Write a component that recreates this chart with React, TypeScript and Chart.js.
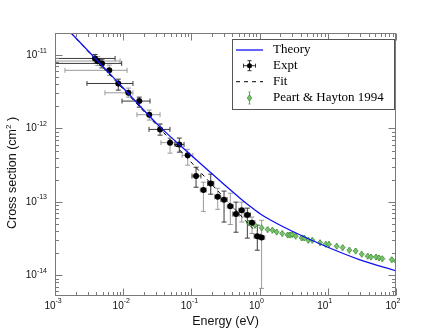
import React, { useEffect, useRef } from 'react';
import { Chart, registerables } from 'chart.js';

Chart.register(...registerables);

// ---------- data ----------
const theoryEnergy = [1.18e-3, 1.72e-3, 9.93e-3, 3.46e-2, 9.54e-2, 0.1874, 0.311, 0.516, 0.723, 1.014, 1.42, 3.12, 9.63, 29.7, 102];
const theorySigma = [2.86e-11, 2.0e-11, 3.59e-12, 1.05e-12, 4.46e-13, 2.54e-13, 1.68e-13, 1.12e-13, 8.7e-14, 6.89e-14, 5.7e-14, 3.91e-14, 2.44e-14, 1.62e-14, 1.14e-14];

const fitEnergy = [1.18e-3, 0.8];
const fitSigma = [2.9e-11, 4.3e-14];

const exptEnergy = [3.86e-3, 4.23e-3, 4.89e-3, 6.25e-3, 8.47e-3, 1.19e-2, 1.72e-2, 2.41e-2, 3.47e-2, 4.86e-2, 6.65e-2, 8.83e-2, 0.117, 0.15, 0.192, 0.243, 0.301, 0.372, 0.451, 0.547, 0.661, 0.774, 0.925, 1.07];
const exptSigma = [9.0e-12, 8.3e-12, 7.7e-12, 6.2e-12, 4.1e-12, 3.06e-12, 2.36e-12, 1.54e-12, 9.7e-13, 6.4e-13, 6.05e-13, 4.3e-13, 2.25e-13, 1.45e-13, 1.78e-13, 1.17e-13, 1.07e-13, 8.7e-14, 6.8e-14, 7.7e-14, 6.6e-14, 5.2e-14, 3.4e-14, 3.26e-14];
const exptSigmaLow = [7.7e-12, 7.2e-12, 6.7e-12, 5.3e-12, 3.33e-12, 2.67e-12, 1.95e-12, 1.3e-12, 8.1e-13, 4.6e-13, 4.75e-13, 3.16e-13, 1.58e-13, 7.4e-14, 1.27e-13, 7.9e-14, 5.3e-14, 4.9e-14, 3.85e-14, 5.3e-14, 3.2e-14, 3.7e-14, 2.19e-14, 6.6e-15];
const exptSigmaHigh = [1.02e-11, 9.5e-12, 8.8e-12, 7.3e-12, 4.7e-12, 3.55e-12, 2.67e-12, 1.78e-12, 1.15e-12, 7.4e-13, 7.4e-13, 5.2e-13, 2.96e-13, 1.85e-13, 2.38e-13, 1.53e-13, 1.4e-13, 1.31e-13, 9.9e-14, 9.9e-14, 8.2e-14, 6.2e-14, 4.8e-14, 5.6e-14];
const exptEnergyLow = [7e-4, 7e-4, 7e-4, 1.4e-3, 2.94e-3, 5.4e-3, 9.6e-3, 1.59e-2, 2.39e-2, 3.58e-2, 5.75e-2, 7.3e-2, 0.102, 0.135, 0.173, 0.219, 0.271, 0.335, 0.406, 0.492, 0.595, 0.697, 0.833, 0.963];
const exptEnergyHigh = [7.6e-3, 9.0e-3, 9.5e-3, 1.14e-2, 1.39e-2, 1.39e-2, 2.47e-2, 3.47e-2, 4.85e-2, 5.75e-2, 7.8e-2, 0.105, 0.138, 0.166, 0.213, 0.27, 0.334, 0.413, 0.501, 0.607, 0.734, 0.859, 1.03, 1.19];

const peartEnergy = [0.699, 0.856, 1.07, 1.31, 1.54, 1.78, 2.15, 2.58, 2.79, 3.02, 3.38, 4.14, 4.52, 5.18, 5.93, 7.69, 9.32, 10.4, 13.5, 16.5, 20.7, 25.6, 31.4, 38.5, 43.0, 50.9, 56.3, 63.0, 86.5, 100];
const peartSigma = [5.15e-14, 4.8e-14, 4.43e-14, 4.19e-14, 4.1e-14, 3.88e-14, 3.7e-14, 3.53e-14, 3.53e-14, 3.58e-14, 3.4e-14, 3.22e-14, 3.22e-14, 2.99e-14, 2.99e-14, 2.78e-14, 2.64e-14, 2.64e-14, 2.48e-14, 2.38e-14, 2.19e-14, 2.14e-14, 1.93e-14, 1.81e-14, 1.77e-14, 1.77e-14, 1.72e-14, 1.68e-14, 1.63e-14, 1.55e-14];
const peartRelErr = 0.08;

const xMin = 1e-3;
const xMax = 100;
const yMin = 5.2e-15;
const yMax = 2e-11;
const xTickValues = [1e-3, 1e-2, 1e-1, 1, 10, 100];
const xTickExponents = ['-3', '-2', '-1', '0', '1', '2'];
const yTickValues = [1e-14, 1e-13, 1e-12, 1e-11];
const yTickExponents = ['-14', '-13', '-12', '-11'];

const legendLabels = ['Theory', 'Expt', 'Fit', 'Peart & Hayton 1994'];

const SANS = '"Liberation Sans", Arial, Helvetica, sans-serif';
const SERIF = '"Liberation Serif", "Times New Roman", serif';
const BLUE = '#1010f0';
const GREEN_FILL = '#7cc46a';
const GREEN_EDGE = '#3d8a3d';
const FRAME = '#7a7a7a';

const pts = (xs: number[], ys: number[]) => xs.map((x, i) => ({ x, y: ys[i] }));

function drawErrorBar(ctx: CanvasRenderingContext2D, cx: number, cy: number, x0: number, x1: number, y0: number, y1: number, cap: number) {
  ctx.beginPath();
  if (x0 !== x1) {
    ctx.moveTo(x0, cy); ctx.lineTo(x1, cy);
    ctx.moveTo(x0, cy - cap); ctx.lineTo(x0, cy + cap);
    ctx.moveTo(x1, cy - cap); ctx.lineTo(x1, cy + cap);
  }
  if (y0 !== y1) {
    ctx.moveTo(cx, y0); ctx.lineTo(cx, y1);
    ctx.moveTo(cx - cap, y0); ctx.lineTo(cx + cap, y0);
    ctx.moveTo(cx - cap, y1); ctx.lineTo(cx + cap, y1);
  }
  ctx.stroke();
}

const errorBarPlugin = {
  id: 'errorBars',
  beforeDatasetsDraw(chart: any) {
    const { ctx, chartArea: a, scales } = chart;
    const xs = scales.x, ys = scales.y;
    ctx.save();
    ctx.beginPath();
    ctx.rect(a.left, a.top, a.right - a.left, a.bottom - a.top);
    ctx.clip();
    ctx.lineWidth = 1;
    exptEnergy.forEach((e, i) => {
      const cx = xs.getPixelForValue(e);
      const cy = ys.getPixelForValue(exptSigma[i]);
      ctx.strokeStyle = i % 2 === 0 ? '#3a3a3a' : '#9a9a9a';
      drawErrorBar(ctx, cx, cy,
        xs.getPixelForValue(exptEnergyLow[i]), xs.getPixelForValue(exptEnergyHigh[i]),
        ys.getPixelForValue(exptSigmaLow[i]), ys.getPixelForValue(exptSigmaHigh[i]), 2.5);
    });
    ctx.strokeStyle = '#5aa84a';
    peartEnergy.forEach((e, i) => {
      const cx = xs.getPixelForValue(e);
      const cy = ys.getPixelForValue(peartSigma[i]);
      drawErrorBar(ctx, cx, cy, cx, cx,
        ys.getPixelForValue(peartSigma[i] * (1 - peartRelErr)), ys.getPixelForValue(peartSigma[i] * (1 + peartRelErr)), 1);
    });
    ctx.restore();
  },
};

const framePlugin = {
  id: 'frame',
  afterDatasetsDraw(chart: any) {
    const { ctx, chartArea: a, scales } = chart;
    const xs = scales.x, ys = scales.y;
    const L = Math.round(a.left) + 0.5;
    const R = Math.round(a.right) - 0.5;
    const T = Math.round(a.top) + 0.5;
    const B = Math.round(a.bottom) - 0.5;
    ctx.save();
    ctx.strokeStyle = FRAME;
    ctx.lineWidth = 1;
    ctx.strokeRect(L, T, R - L, B - T);
    ctx.beginPath();
    // x ticks
    for (let d = -3; d <= 2; d++) {
      for (let m = 1; m <= 9; m++) {
        const v = m * Math.pow(10, d);
        if (v < xMin * 0.999 || v > xMax * 1.001) continue;
        const p = Math.round(xs.getPixelForValue(v)) + 0.5;
        const len = m === 1 ? 7 : 3.5;
        ctx.moveTo(p, B); ctx.lineTo(p, B - len);
        ctx.moveTo(p, T); ctx.lineTo(p, T + len);
      }
    }
    // y ticks
    for (let d = -15; d <= -11; d++) {
      for (let m = 1; m <= 9; m++) {
        const v = m * Math.pow(10, d);
        if (v < yMin * 0.999 || v > yMax * 1.001) continue;
        const p = Math.round(ys.getPixelForValue(v)) + 0.5;
        const len = m === 1 ? 7 : 3.5;
        ctx.moveTo(L, p); ctx.lineTo(L + len, p);
        ctx.moveTo(R, p); ctx.lineTo(R - len, p);
      }
    }
    ctx.stroke();

    // tick labels
    ctx.fillStyle = '#111';
    ctx.textBaseline = 'middle';
    xTickValues.forEach((v, i) => {
      const p = xs.getPixelForValue(v);
      ctx.font = `10px ${SANS}`;
      ctx.textAlign = 'right';
      ctx.fillText('10', p + 0.5, a.bottom + 10);
      ctx.font = `7px ${SANS}`;
      ctx.textAlign = 'left';
      ctx.fillText(xTickExponents[i], p + 0.5, a.bottom + 5);
    });
    yTickValues.forEach((v, i) => {
      const p = ys.getPixelForValue(v);
      ctx.font = `7px ${SANS}`;
      const we = ctx.measureText(yTickExponents[i]).width;
      const right = a.left - 8;
      ctx.textAlign = 'left';
      ctx.fillText(yTickExponents[i], right - we, p - 4.5);
      ctx.font = `10px ${SANS}`;
      ctx.textAlign = 'right';
      ctx.fillText('10', right - we, p);
    });

    // axis titles
    ctx.font = `12.5px ${SANS}`;
    ctx.textAlign = 'center';
    ctx.fillText('Energy (eV)', (a.left + a.right) / 2, 322);

    ctx.save();
    ctx.translate(13, 173);
    ctx.rotate(-Math.PI / 2);
    const t1 = 'Cross section (cm';
    const t3 = ' )';
    ctx.font = `12.5px ${SANS}`;
    const w1 = ctx.measureText(t1).width;
    const w3 = ctx.measureText(t3).width;
    ctx.font = `8px ${SANS}`;
    const w2 = ctx.measureText('2').width;
    const total = w1 + w2 + w3;
    let sx = -total / 2;
    ctx.textAlign = 'left';
    ctx.font = `12.5px ${SANS}`;
    ctx.fillText(t1, sx, 0);
    sx += w1;
    ctx.font = `8px ${SANS}`;
    ctx.fillText('2', sx, -4.5);
    sx += w2;
    ctx.font = `12.5px ${SANS}`;
    ctx.fillText(t3, sx, 0);
    ctx.restore();

    // legend
    const bx = 232.5, by = 39.5, bw = 162, bh = 70;
    ctx.fillStyle = '#fff';
    ctx.fillRect(bx, by, bw, bh);
    ctx.strokeStyle = '#555';
    ctx.strokeRect(bx, by, bw, bh);
    const rows = [50, 65.7, 81.7, 98];
    const sx0 = 236, sx1 = 263, mx = 249.5;
    // Theory
    ctx.strokeStyle = BLUE;
    ctx.lineWidth = 1.3;
    ctx.beginPath(); ctx.moveTo(sx0, rows[0]); ctx.lineTo(sx1, rows[0]); ctx.stroke();
    // Expt
    ctx.lineWidth = 1;
    ctx.strokeStyle = '#333';
    drawErrorBar(ctx, mx, rows[1], mx - 6, mx + 6, rows[1] - 5, rows[1] + 5, 2);
    ctx.fillStyle = '#000';
    ctx.beginPath(); ctx.arc(mx, rows[1], 2.5, 0, Math.PI * 2); ctx.fill();
    // Fit
    ctx.strokeStyle = '#000';
    ctx.setLineDash([4, 4]);
    ctx.beginPath(); ctx.moveTo(sx0, rows[2]); ctx.lineTo(sx1, rows[2]); ctx.stroke();
    ctx.setLineDash([]);
    // Peart
    ctx.strokeStyle = '#5aa84a';
    drawErrorBar(ctx, mx, rows[3], mx, mx, rows[3] - 6, rows[3] + 6, 1);
    ctx.fillStyle = GREEN_FILL;
    ctx.strokeStyle = GREEN_EDGE;
    ctx.lineWidth = 0.8;
    ctx.beginPath();
    ctx.moveTo(mx, rows[3] - 3.2); ctx.lineTo(mx + 2.2, rows[3]); ctx.lineTo(mx, rows[3] + 3.2); ctx.lineTo(mx - 2.2, rows[3]); ctx.closePath();
    ctx.fill(); ctx.stroke();
    // texts
    ctx.fillStyle = '#000';
    ctx.font = `13px ${SERIF}`;
    ctx.textAlign = 'left';
    ctx.textBaseline = 'middle';
    legendLabels.forEach((t, i) => ctx.fillText(t, 273, rows[i]));
    ctx.restore();
  },
};

export default function App() {
  const ref = useRef<HTMLCanvasElement | null>(null);
  useEffect(() => {
    if (!ref.current) return;
    const chart = new Chart(ref.current, {
      type: 'scatter',
      data: {
        datasets: [
          {
            label: 'Theory',
            data: pts(theoryEnergy, theorySigma),
            showLine: true,
            borderColor: BLUE,
            borderWidth: 1.3,
            pointRadius: 0,
            tension: 0.4,
            cubicInterpolationMode: 'monotone',
            clip: 0,
          } as any,
          {
            label: 'Fit',
            data: pts(fitEnergy, fitSigma),
            showLine: true,
            borderColor: '#000',
            borderWidth: 1,
            borderDash: [4, 4],
            pointRadius: 0,
            clip: 0,
          } as any,
          {
            label: 'Expt',
            data: pts(exptEnergy, exptSigma),
            pointRadius: 3,
            pointBackgroundColor: '#000',
            pointBorderColor: '#000',
            pointBorderWidth: 0,
          },
          {
            label: 'Peart & Hayton 1994',
            data: pts(peartEnergy, peartSigma),
            pointStyle: 'rectRot',
            pointRadius: 2.6,
            pointBackgroundColor: GREEN_FILL,
            pointBorderColor: GREEN_EDGE,
            pointBorderWidth: 0.8,
          },
        ],
      },
      options: {
        responsive: false,
        animation: false,
        events: [],
        devicePixelRatio: 1,
        layout: { padding: { left: 0, right: 44, top: 33, bottom: 0 } },
        plugins: { legend: { display: false }, tooltip: { enabled: false }, title: { display: false } },
        scales: {
          x: {
            type: 'logarithmic',
            min: xMin,
            max: xMax,
            grid: { display: false },
            border: { display: false },
            ticks: { display: false },
            afterFit: (s: any) => { s.height = 34; },
          },
          y: {
            type: 'logarithmic',
            min: yMin,
            max: yMax,
            grid: { display: false },
            border: { display: false },
            ticks: { display: false },
            afterFit: (s: any) => { s.width = 55; },
          },
        },
      },
      plugins: [errorBarPlugin, framePlugin],
    });
    return () => chart.destroy();
  }, []);
  return (
    <canvas
      ref={ref}
      width={440}
      height={330}
      style={{ position: 'absolute', left: 0, top: 0, width: 440, height: 330, display: 'block' }}
    />
  );
}
